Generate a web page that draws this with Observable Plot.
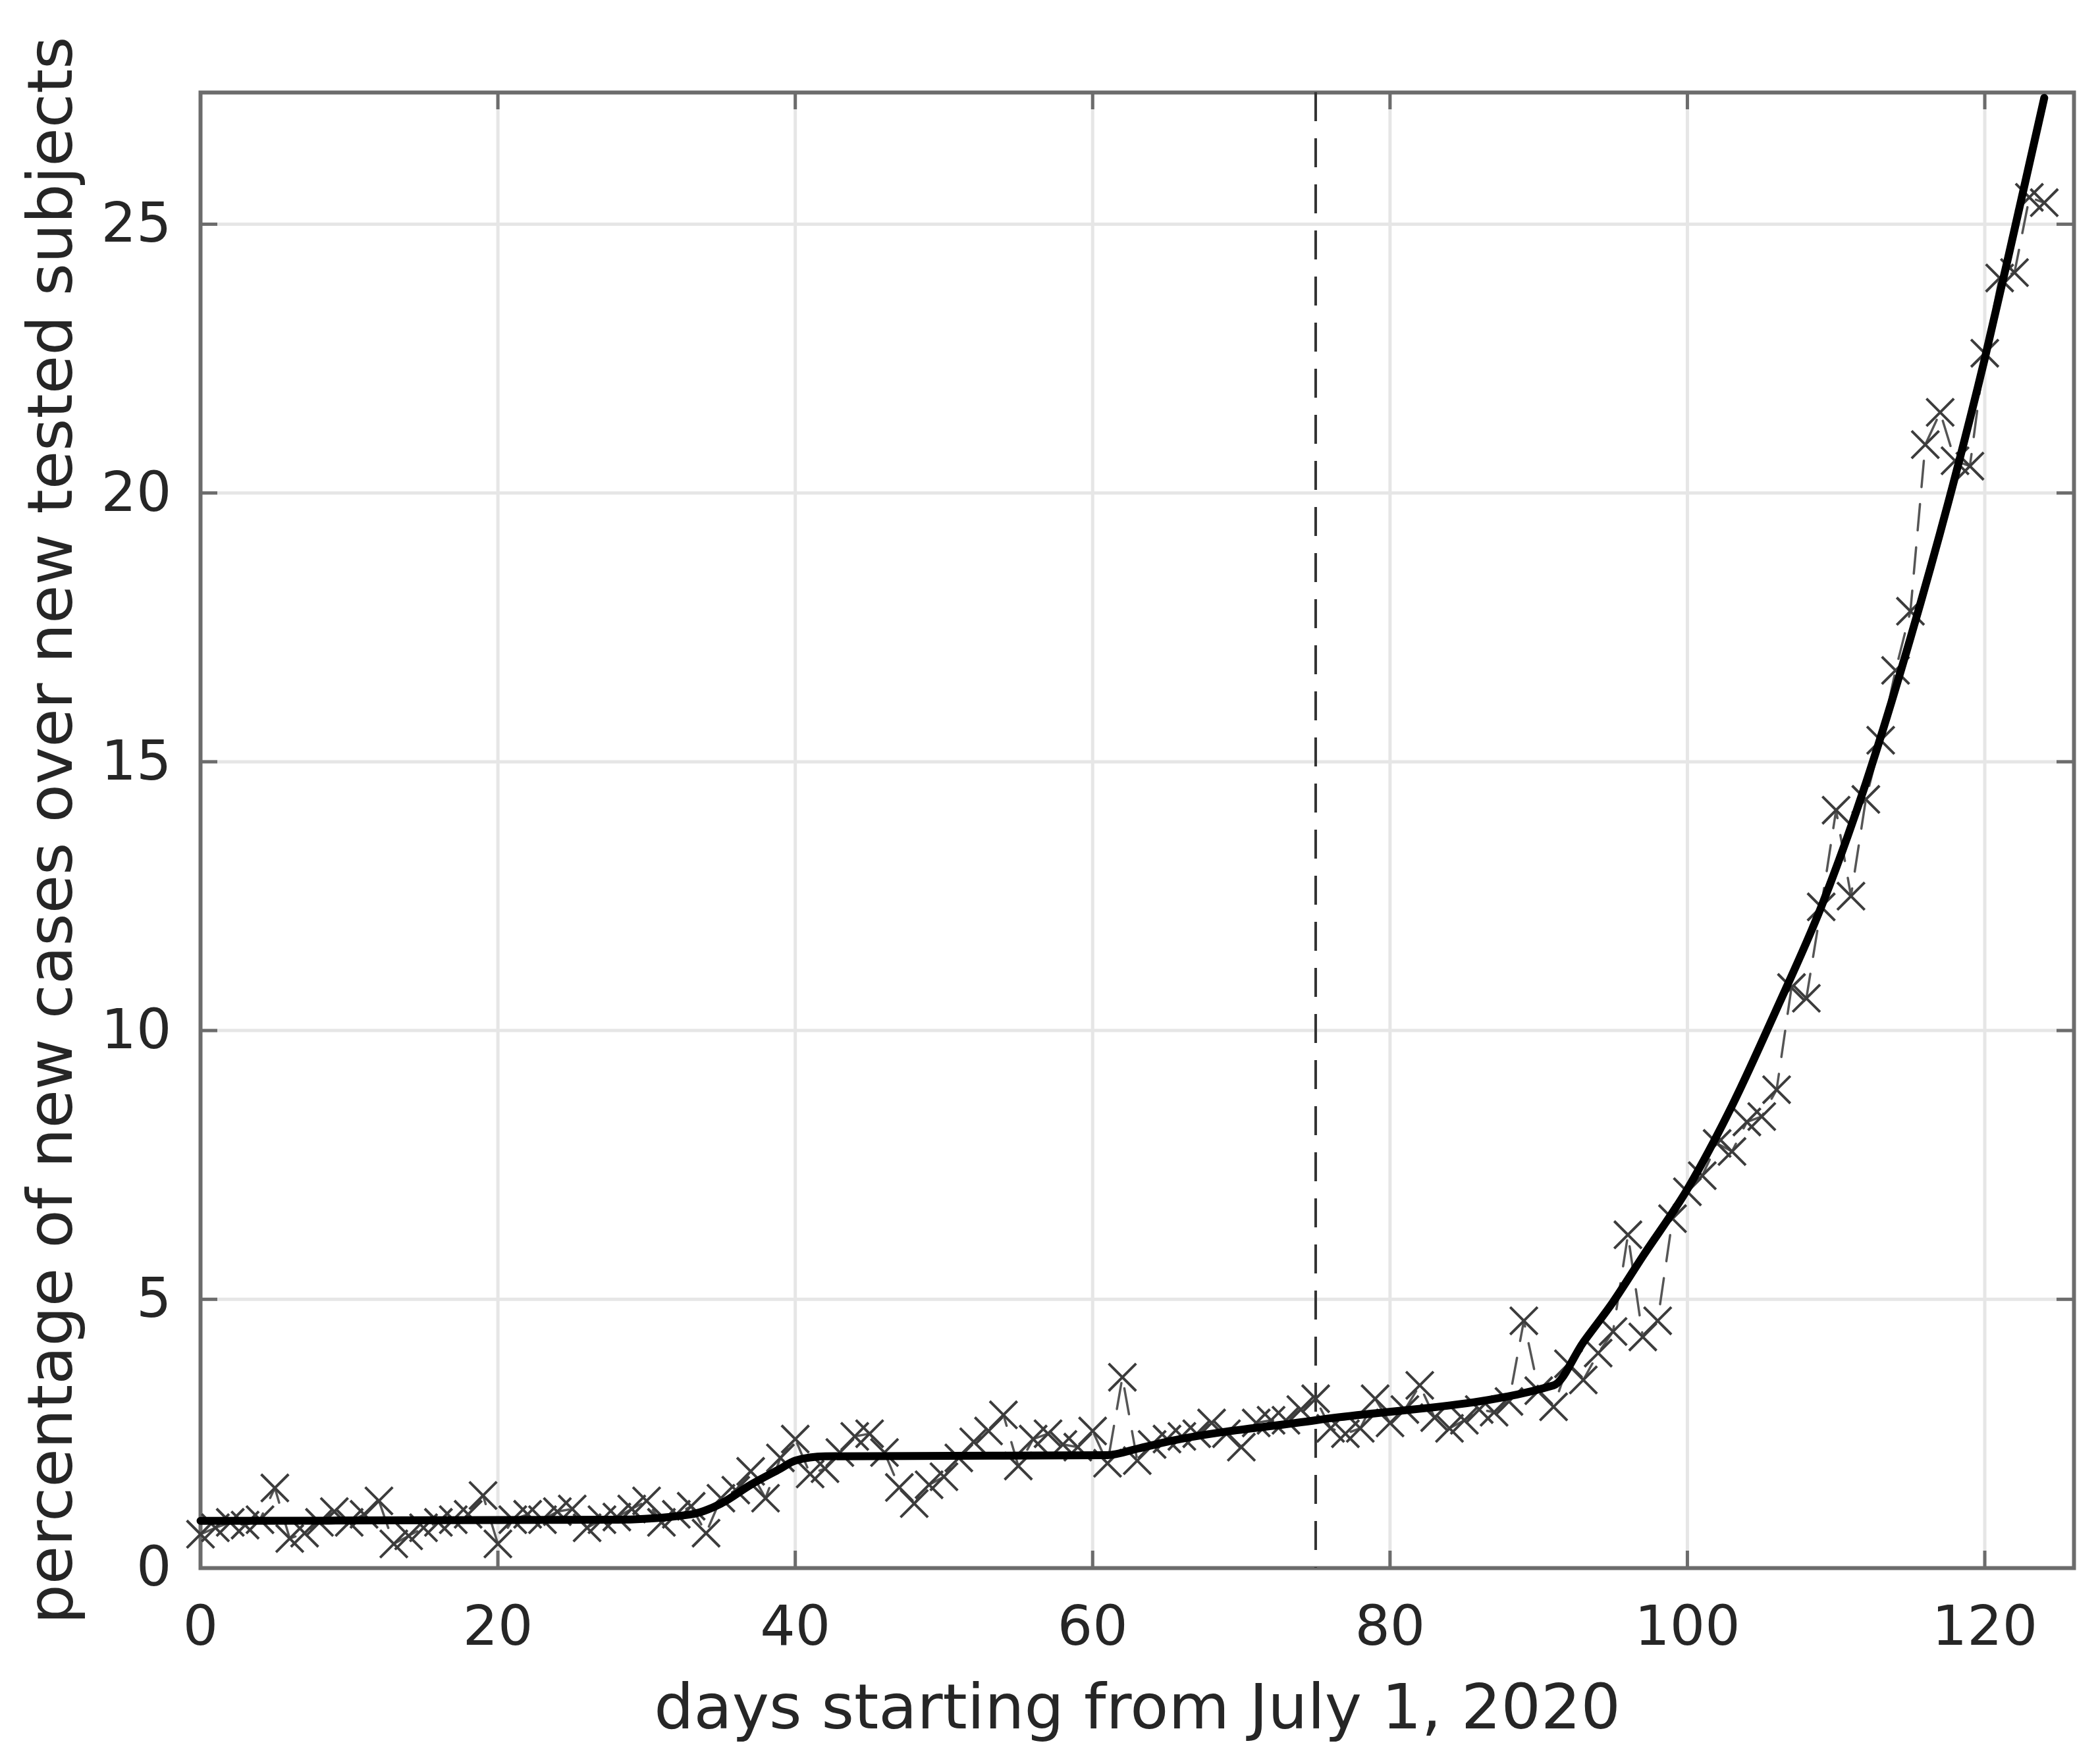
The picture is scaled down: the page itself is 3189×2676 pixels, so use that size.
<!DOCTYPE html>
<html><head><meta charset="utf-8">
<script src="https://cdn.jsdelivr.net/npm/d3@7"></script>
<script src="https://cdn.jsdelivr.net/npm/@observablehq/plot@0.6"></script>
<style>html,body{margin:0;padding:0;background:#fff;}</style>
</head><body><div id="chart"></div>
<script>
// daily percentage of positive tests (day 0 = July 1, 2020)
const positivity = [
  0.63, 0.75, 0.85, 0.8, 0.9, 1.49, 0.55, 0.65, 0.85, 1.05,
  0.85, 1.0, 1.25, 0.45, 0.6, 0.75, 0.85, 0.9, 1.0, 1.35,
  0.45, 0.9, 1.0, 0.9, 1.05, 1.1, 0.75, 0.9, 0.95, 1.1,
  1.25, 0.85, 1.0, 1.15, 0.65, 1.3, 1.45, 1.8, 1.3, 2.05,
  2.4, 1.75, 1.85, 2.15, 2.45, 2.5, 2.15, 1.5, 1.2, 1.55,
  1.7, 2.05, 2.35, 2.55, 2.85, 1.9, 2.4, 2.5, 2.3, 2.25,
  2.55, 1.95, 3.55, 2.0, 2.3, 2.4, 2.45, 2.5, 2.7, 2.5,
  2.25, 2.7, 2.75, 2.75, 2.95, 3.15, 2.6, 2.5, 2.6, 3.15,
  2.7, 2.95, 3.4, 2.8, 2.6, 2.75, 2.95, 2.9, 3.1, 4.6,
  3.3, 3.0, 3.8, 3.5, 4.0, 4.4, 6.2, 4.3, 4.6, 6.5,
  7.0, 7.3, 7.9, 7.75, 8.3, 8.4, 8.9, 10.8, 10.6, 12.3,
  14.1, 12.5, 14.3, 15.4, 16.7, 17.8, 20.9, 21.5, 20.6, 20.5,
  22.6, 24.0, 24.1, 25.5, 25.4
];
// fitted model curve
const fitDays   = [0, 28, 33, 35, 37, 39, 40, 42, 61, 63, 65, 75, 91, 93, 95, 97, 100, 103, 106, 109, 112, 115, 118, 120, 122, 124];
const fitValues = [0.88, 0.9, 1.0, 1.2, 1.55, 1.85, 2.0, 2.08, 2.1, 2.22, 2.35, 2.75, 3.4, 4.2, 4.95, 5.8, 7.05, 8.6, 10.4, 12.3, 14.6, 17.3, 20.3, 22.5, 24.9, 27.35];
const changeDay = [75];
const xTicks = [0, 20, 40, 60, 80, 100, 120];
const yTicks = [0, 5, 10, 15, 20, 25];
const xLabel = "days starting from July 1, 2020";
const yLabel = "percentage of new cases over new tested subjects";

const points = positivity.map((v, i) => ({day: i, value: v}));
const fit = fitDays.map((d, i) => ({day: d, value: fitValues[i]}));

const W = 3189, H = 2676;
const mL = 304, mR = 40, mT = 140, mB = 295;
const fw = W - mL - mR, fh = H - mT - mB;
const tickLen = 26;
const frameColor = "#6c6c6c";

const chart = Plot.plot({
  width: W, height: H,
  marginLeft: mL, marginRight: mR, marginTop: mT, marginBottom: mB,
  style: {fontFamily: "DejaVu Sans", fontSize: "84px", color: "#262626", background: "#fff"},
  x: {domain: [0, 126]},
  y: {domain: [0, 27.45]},
  marks: [
    Plot.ruleX(xTicks.slice(1), {x: d => d, stroke: "#e6e6e6", strokeWidth: 5}),
    Plot.ruleY(yTicks.slice(1), {y: d => d, stroke: "#e6e6e6", strokeWidth: 5}),
    Plot.ruleX(xTicks, {x: d => d, insetTop: fh - tickLen, stroke: frameColor, strokeWidth: 5}),
    Plot.ruleX(xTicks, {x: d => d, insetBottom: fh - tickLen, stroke: frameColor, strokeWidth: 5}),
    Plot.ruleY(yTicks, {y: d => d, insetRight: fw - tickLen, stroke: frameColor, strokeWidth: 5}),
    Plot.ruleY(yTicks, {y: d => d, insetLeft: fw - tickLen, stroke: frameColor, strokeWidth: 5}),
    Plot.frame({stroke: frameColor, strokeWidth: 6}),
    Plot.ruleX(changeDay, {x: d => d, stroke: "#333", strokeWidth: 4, strokeDasharray: "44,26"}),
    Plot.line(points, {x: "day", y: "value", stroke: "#555", strokeWidth: 3.5, strokeDasharray: "40,26"}),
    Plot.dot(points, {x: "day", y: "value", symbol: "times", r: 19, stroke: "#3c3c3c", strokeWidth: 4}),
    Plot.line(fit, {x: "day", y: "value", curve: "monotone-x", stroke: "#000", strokeWidth: 12}),
    Plot.axisX({ticks: xTicks, tickSize: 0, tickPadding: 57, label: null}),
    Plot.axisY({ticks: yTicks, tickSize: 0, tickPadding: 44, label: null}),
    Plot.text([xLabel], {text: d => d, frameAnchor: "bottom", dy: 243, lineAnchor: "bottom", textAnchor: "middle", fontSize: 95, fill: "#262626"}),
    Plot.text([yLabel], {text: d => d, frameAnchor: "left", dx: -196, rotate: -90, lineAnchor: "bottom", textAnchor: "middle", fontSize: 95, fill: "#262626"})
  ]
});
document.getElementById("chart").appendChild(chart);
</script>
</body></html>
